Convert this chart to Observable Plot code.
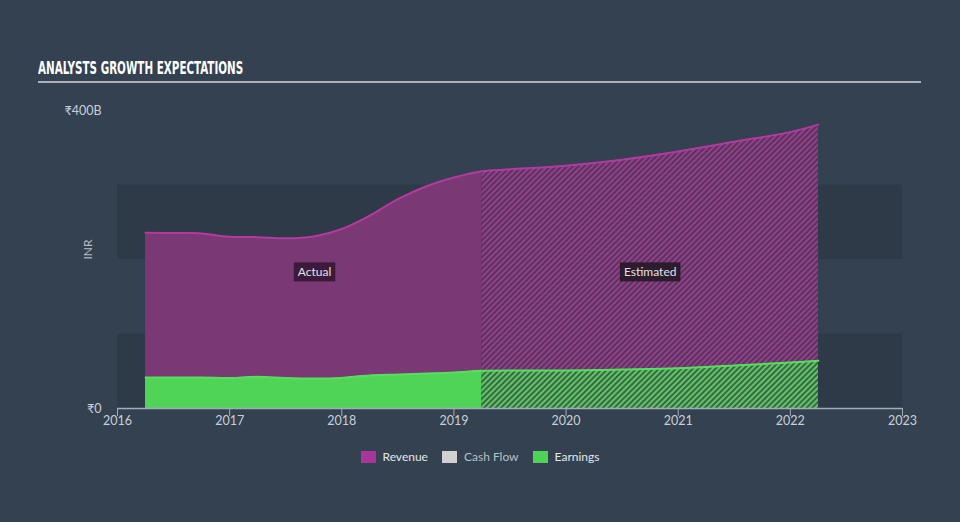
<!DOCTYPE html>
<html>
<head>
<meta charset="utf-8">
<script src="https://cdn.jsdelivr.net/npm/d3@7"></script>
<script src="https://cdn.jsdelivr.net/npm/@observablehq/plot@0.6"></script>
<style>
  html, body { margin: 0; padding: 0; background: #344150; }
  #wrap { position: relative; width: 960px; height: 522px; background: #344150; overflow: hidden; font-family: Lato, "Open Sans", sans-serif; }
  #title { position: absolute; left: 38px; top: 57px; color: #ffffff; font-family: "DejaVu Sans Condensed", "Liberation Sans Narrow", "Roboto", sans-serif; font-weight: bold; font-size: 18px; transform: scaleX(0.64); transform-origin: left top; white-space: nowrap; }
  #rule { position: absolute; left: 38px; top: 81px; width: 883px; height: 2px; background: #a9b2bd; }
  #chart { position: absolute; left: 0; top: 90px; }
  #legend { position: absolute; top: 449px; left: 0; width: 960px; display: flex; justify-content: center; gap: 14px; font-size: 12px; color: #e2e6ea; }
  .item { display: flex; align-items: center; gap: 7px; }
  .sw { width: 15px; height: 12px; display: inline-block; }
</style>
</head>
<body>
<div id="wrap">
  <div id="title">ANALYSTS GROWTH EXPECTATIONS</div>
  <div id="rule"></div>
  <div id="chart"></div>
  <div id="legend"></div>
</div>
<script>
// ---- data ----
const revenueYears = [2016.25, 2016.5, 2016.75, 2016.9, 2017.0, 2017.25, 2017.5, 2017.75, 2018.0, 2018.25, 2018.5, 2018.75, 2019.0, 2019.25, 2019.5, 2020.0, 2020.5, 2021.0, 2021.5, 2022.0, 2022.25];
const revenueValues = [236, 235.5, 235, 232, 230.5, 230, 228.5, 231, 241, 259, 281, 298, 310, 318.5, 321, 326, 334, 345, 358, 371, 381];
const earningsYears = [2016.25, 2016.75, 2017.0, 2017.25, 2017.5, 2017.9, 2018.25, 2018.5, 2019.0, 2019.25, 2020.0, 2020.5, 2021.0, 2021.5, 2022.0, 2022.25];
const earningsValues = [41.6, 41.6, 41, 42.5, 41, 40.3, 44.3, 45.6, 48.3, 50.6, 51, 52.3, 54, 57.7, 61.7, 64];
const forecastStart = 2019.25;
const yTicks = [0, 400];
const yTickLabels = ["₹0", "₹400B"];
const xTicks = [2016, 2017, 2018, 2019, 2020, 2021, 2022, 2023];
const bandLows = [0, 200];
const bandHighs = [100, 300];
const periodLabels = ["Actual", "Estimated"];
const periodLabelX = [2017.757, 2020.75];
const periodLabelY = [182.5, 182.5];
const legendNames = ["Revenue", "Cash Flow", "Earnings"];
const legendColors = ["#a8359a", "#d0d0d0", "#4fd356"];

// ---- tables ----
const rev = revenueYears.map((x, i) => ({x, y: revenueValues[i]}));
const earn = earningsYears.map((x, i) => ({x, y: earningsValues[i]}));
const revA = rev.filter(d => d.x <= forecastStart), revE = rev.filter(d => d.x >= forecastStart);
const earnA = earn.filter(d => d.x <= forecastStart), earnE = earn.filter(d => d.x >= forecastStart);
const bands = bandLows.map((lo, i) => ({lo, hi: bandHighs[i]}));
const labels = periodLabels.map((t, i) => ({t, x: periodLabelX[i], y: periodLabelY[i]}));

const curve = "catmull-rom";
const chart = Plot.plot({
  width: 960,
  height: 350,
  marginLeft: 117,
  marginRight: 58,
  marginTop: 20,
  marginBottom: 32,
  style: {background: "transparent", color: "#c9cfd6", fontSize: "12px", fontFamily: "Lato, 'Open Sans', sans-serif"},
  x: {domain: [2016, 2023]},
  y: {domain: [0, 400]},
  marks: [
    Plot.rectY(bands, {x1: 2016, x2: 2023, y1: "lo", y2: "hi", fill: "#2e3a48"}),
    Plot.areaY(revA, {x: "x", y: "y", curve, fill: "#7a3874"}),
    Plot.areaY(revE, {x: "x", y: "y", curve, fill: "url(#hatchRev)"}),
    Plot.areaY(earnA, {x: "x", y: "y", curve, fill: "#50d457"}),
    Plot.areaY(earnE, {x: "x", y: "y", curve, fill: "url(#hatchEarn)"}),
    Plot.lineY(rev, {x: "x", y: "y", curve, stroke: "#b23aa0", strokeWidth: 2}),
    Plot.lineY(earn, {x: "x", y: "y", curve, stroke: "#55e05c", strokeWidth: 2}),
    Plot.ruleY([0], {stroke: "#a3adb9", strokeWidth: 1.5}),
    Plot.axisX({ticks: xTicks, tickFormat: d => String(d), tickSize: 8, tickPadding: 0, stroke: "#a3adb9", color: "#c9cfd6", fontSize: 12.5, label: null}),
    Plot.axisY({ticks: yTicks, tickFormat: (d, i) => yTickLabels[yTicks.indexOf(d)], tickSize: 0, tickPadding: 16, fontSize: 12.5, label: null}),
    Plot.text(["INR"], {frameAnchor: "left", dx: -29, rotate: -90, fill: "#b4bcc6", fontSize: 12}),
    Plot.text(labels, {x: "x", y: "y", text: "t", fill: "#e4e0e6", fontSize: 12, className: "plabel"})
  ]
});

const defs = d3.create("svg:defs");
const p1 = defs.append("pattern").attr("id", "hatchRev").attr("width", 4).attr("height", 4)
  .attr("patternUnits", "userSpaceOnUse").attr("patternTransform", "rotate(45)");
p1.append("rect").attr("width", 4).attr("height", 4).attr("fill", "#58345e");
p1.append("rect").attr("width", 2).attr("height", 4).attr("fill", "#933f8a");
const p2 = defs.append("pattern").attr("id", "hatchEarn").attr("width", 4).attr("height", 4)
  .attr("patternUnits", "userSpaceOnUse").attr("patternTransform", "rotate(45)");
p2.append("rect").attr("width", 4).attr("height", 4).attr("fill", "#44604f");
p2.append("rect").attr("width", 2).attr("height", 4).attr("fill", "#55cc5c");
chart.insertBefore(defs.node(), chart.firstChild);

document.getElementById("chart").appendChild(chart);

// label boxes behind period labels
const boxColors = ["#3c1b3a", "#2c1c2e"];
d3.select(chart).selectAll("g.plabel text").each(function(d, i) {
  const b = this.getBBox();
  d3.select(this.parentNode).insert("rect", () => this)
    .attr("transform", this.getAttribute("transform"))
    .attr("x", b.x - 4).attr("y", b.y - 2).attr("width", b.width + 8).attr("height", b.height + 4)
    .attr("fill", boxColors[i] || "#2c1c2e");
});

// legend
const legend = d3.select("#legend");
legendNames.forEach((n, i) => {
  const it = legend.append("div").attr("class", "item");
  it.append("span").attr("class", "sw").style("background", legendColors[i]);
  it.append("span").text(n).style("color", i === 1 ? "#b9bfc6" : "#e2e6ea");
});
</script>
</body>
</html>
